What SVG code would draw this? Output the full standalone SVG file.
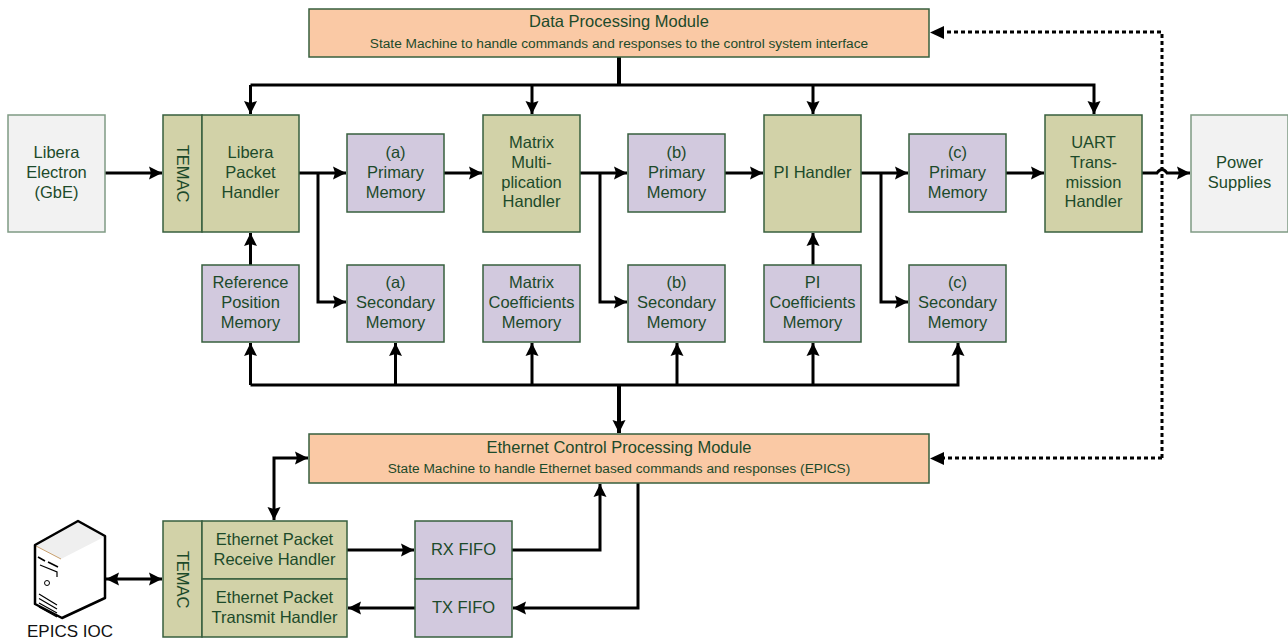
<svg xmlns="http://www.w3.org/2000/svg" width="1288" height="640" viewBox="0 0 1288 640">
<style>
text{font-family:"Liberation Sans",Arial,sans-serif;font-size:16.5px;fill:#1c4a2a;text-anchor:middle}
.s{font-size:13.7px}
rect{stroke:#375f3e;stroke-width:1.5}
.o{fill:#fac9a5}.g{fill:#d2d2a8}.p{fill:#d2c9de}.w{fill:#f2f2f2;stroke:#7f9a84}
.c path{fill:none;stroke:#000;stroke-width:3}
.c path.b{stroke-width:4}
.c path.d{stroke-dasharray:4 3}
.c path.h{fill:#000;stroke:none}
</style>
<defs>
<marker id="a" markerUnits="userSpaceOnUse" markerWidth="14" markerHeight="14" refX="13" refY="7" orient="auto-start-reverse"><path d="M0 .5L13 7L0 13.500L2 7Z" fill="#000"/></marker>
</defs>
<g id="connectors" class="c">
<path d="M105 173H162" marker-end="url(#a)"/>
<path d="M299 173H346" marker-end="url(#a)"/>
<path d="M318 173V302H346" marker-end="url(#a)"/>
<path d="M444 173H482" marker-end="url(#a)"/>
<path d="M580 173H627" marker-end="url(#a)"/>
<path d="M600 173V302H627" marker-end="url(#a)"/>
<path d="M725 173H763" marker-end="url(#a)"/>
<path d="M861 173H908" marker-end="url(#a)"/>
<path d="M881 173V302H908" marker-end="url(#a)"/>
<path d="M1006 173H1044" marker-end="url(#a)"/>
<path d="M1142 173H1157Q1162 166 1167 173H1190" marker-end="url(#a)"/>
<path d="M250.500 265V233" marker-end="url(#a)"/>
<path d="M813 265V233" marker-end="url(#a)"/>
<path class="b" d="M619 57V85"/>
<path d="M250.500 85H1094V114" marker-end="url(#a)"/>
<path d="M250.500 85V114" marker-end="url(#a)"/>
<path d="M532 85V114" marker-end="url(#a)"/>
<path d="M813 85V114" marker-end="url(#a)"/>
<path d="M250.500 385H958V343" marker-end="url(#a)"/>
<path d="M250.500 385V343" marker-end="url(#a)"/>
<path d="M395.500 385V343" marker-end="url(#a)"/>
<path d="M532 385V343" marker-end="url(#a)"/>
<path d="M677 385V343" marker-end="url(#a)"/>
<path d="M813 385V343" marker-end="url(#a)"/>
<path class="b" d="M619 385V433" marker-end="url(#a)"/>
<path d="M308 458H274V520" marker-start="url(#a)" marker-end="url(#a)"/>
<path d="M106 579H162" marker-start="url(#a)" marker-end="url(#a)"/>
<path d="M347 550H414" marker-end="url(#a)"/>
<path d="M512 550H600V484" marker-end="url(#a)"/>
<path d="M638 483V608H513" marker-end="url(#a)"/>
<path d="M415 608H348" marker-end="url(#a)"/>
<path class="d" d="M1162 458V32H940"/>
<path class="d" d="M1162 458H940"/>
<path class="h" d="M944 26L930 32.500L944 39Z"/>
<path class="h" d="M944 452L930 458.500L944 465Z"/>
</g>
<g id="data-module"><rect class="o" x="309" y="9" width="620" height="48"/><text x="619" y="27">Data Processing Module</text><text class="s" x="619" y="48">State Machine to handle commands and responses to the control system interface</text></g>
<g id="ethernet-module"><rect class="o" x="309" y="434" width="620" height="49"/><text x="619" y="453">Ethernet Control Processing Module</text><text class="s" x="619" y="473">State Machine to handle Ethernet based commands and responses (EPICS)</text></g>
<g id="libera-electron"><rect class="w" x="8" y="115" width="97" height="117"/><text x="56.500" y="158">Libera</text><text x="56.500" y="178">Electron</text><text x="56.500" y="198">(GbE)</text></g>
<g id="temac-1"><rect class="g" x="163" y="115" width="39" height="117"/><text transform="translate(177 173.500) rotate(90)" x="0" y="0">TEMAC</text></g>
<g id="libera-packet"><rect class="g" x="202" y="115" width="97" height="117"/><text x="250.500" y="158">Libera</text><text x="250.500" y="178">Packet</text><text x="250.500" y="198">Handler</text></g>
<g id="a-primary"><rect class="p" x="347" y="134" width="97" height="78"/><text x="395.500" y="158">(a)</text><text x="395.500" y="178">Primary</text><text x="395.500" y="198">Memory</text></g>
<g id="matrix-handler"><rect class="g" x="483" y="115" width="97" height="117"/><text x="531.500" y="148">Matrix</text><text x="531.500" y="168">Multi-</text><text x="531.500" y="188">plication</text><text x="531.500" y="207">Handler</text></g>
<g id="b-primary"><rect class="p" x="628" y="134" width="97" height="78"/><text x="676.500" y="158">(b)</text><text x="676.500" y="178">Primary</text><text x="676.500" y="198">Memory</text></g>
<g id="pi-handler"><rect class="g" x="764" y="115" width="97" height="117"/><text x="812.500" y="178">PI Handler</text></g>
<g id="c-primary"><rect class="p" x="909" y="134" width="97" height="78"/><text x="957.500" y="158">(c)</text><text x="957.500" y="178">Primary</text><text x="957.500" y="198">Memory</text></g>
<g id="uart"><rect class="g" x="1045" y="115" width="97" height="117"/><text x="1093.500" y="148">UART</text><text x="1093.500" y="168">Trans-</text><text x="1093.500" y="188">mission</text><text x="1093.500" y="207">Handler</text></g>
<g id="power"><rect class="w" x="1191" y="115" width="97" height="117"/><text x="1239.500" y="168">Power</text><text x="1239.500" y="188">Supplies</text></g>
<g id="reference-memory"><rect class="p" x="202" y="265" width="97" height="77"/><text x="250.500" y="288">Reference</text><text x="250.500" y="308">Position</text><text x="250.500" y="328">Memory</text></g>
<g id="a-secondary"><rect class="p" x="347" y="265" width="97" height="77"/><text x="395.500" y="288">(a)</text><text x="395.500" y="308">Secondary</text><text x="395.500" y="328">Memory</text></g>
<g id="matrix-coefficients"><rect class="p" x="483" y="265" width="97" height="77"/><text x="531.500" y="288">Matrix</text><text x="531.500" y="308">Coefficients</text><text x="531.500" y="328">Memory</text></g>
<g id="b-secondary"><rect class="p" x="628" y="265" width="97" height="77"/><text x="676.500" y="288">(b)</text><text x="676.500" y="308">Secondary</text><text x="676.500" y="328">Memory</text></g>
<g id="pi-coefficients"><rect class="p" x="764" y="265" width="97" height="77"/><text x="812.500" y="288">PI</text><text x="812.500" y="308">Coefficients</text><text x="812.500" y="328">Memory</text></g>
<g id="c-secondary"><rect class="p" x="909" y="265" width="97" height="77"/><text x="957.500" y="288">(c)</text><text x="957.500" y="308">Secondary</text><text x="957.500" y="328">Memory</text></g>
<g id="temac-2"><rect class="g" x="163" y="521" width="39" height="116"/><text transform="translate(177 579.500) rotate(90)" x="0" y="0">TEMAC</text></g>
<g id="eth-receive"><rect class="g" x="202" y="521" width="145" height="58"/><text x="274.500" y="545">Ethernet Packet</text><text x="274.500" y="565">Receive Handler</text></g>
<g id="eth-transmit"><rect class="g" x="202" y="579" width="145" height="58"/><text x="274.500" y="603">Ethernet Packet</text><text x="274.500" y="623">Transmit Handler</text></g>
<g id="rx-fifo"><rect class="p" x="415" y="521" width="97" height="58"/><text x="463.500" y="555">RX FIFO</text></g>
<g id="tx-fifo"><rect class="p" x="415" y="579" width="97" height="58"/><text x="463.500" y="613">TX FIFO</text></g>
<g id="epics-ioc">
<path d="M78 521L105 536V598L62 618L35 604V545Z" fill="#fff"/>
<path d="M78 522L104 537L61 559L36 546Z" fill="#efefef"/>
<path d="M36 546L61 559" fill="none" stroke="#c9a06e" stroke-width="1"/>
<path d="M62 618L105 598V536L78 521L35 545V604Z" fill="none" stroke="#000" stroke-width="2.500" stroke-linejoin="round"/>
<path d="M38 557L45 561M48 562L58 567" fill="none" stroke="#000" stroke-width="1.600"/>
<path d="M40 565L57 572V577M39 594L57 605M39 598.500L57 609M39 603L57 613M39 607L57 617" fill="none" stroke="#000" stroke-width="1.200"/>
<circle cx="47" cy="583" r="2.500" fill="none" stroke="#000"/>
<text x="70" y="637" style="font-size:17px;fill:#111">EPICS IOC</text>
</g>
</svg>
